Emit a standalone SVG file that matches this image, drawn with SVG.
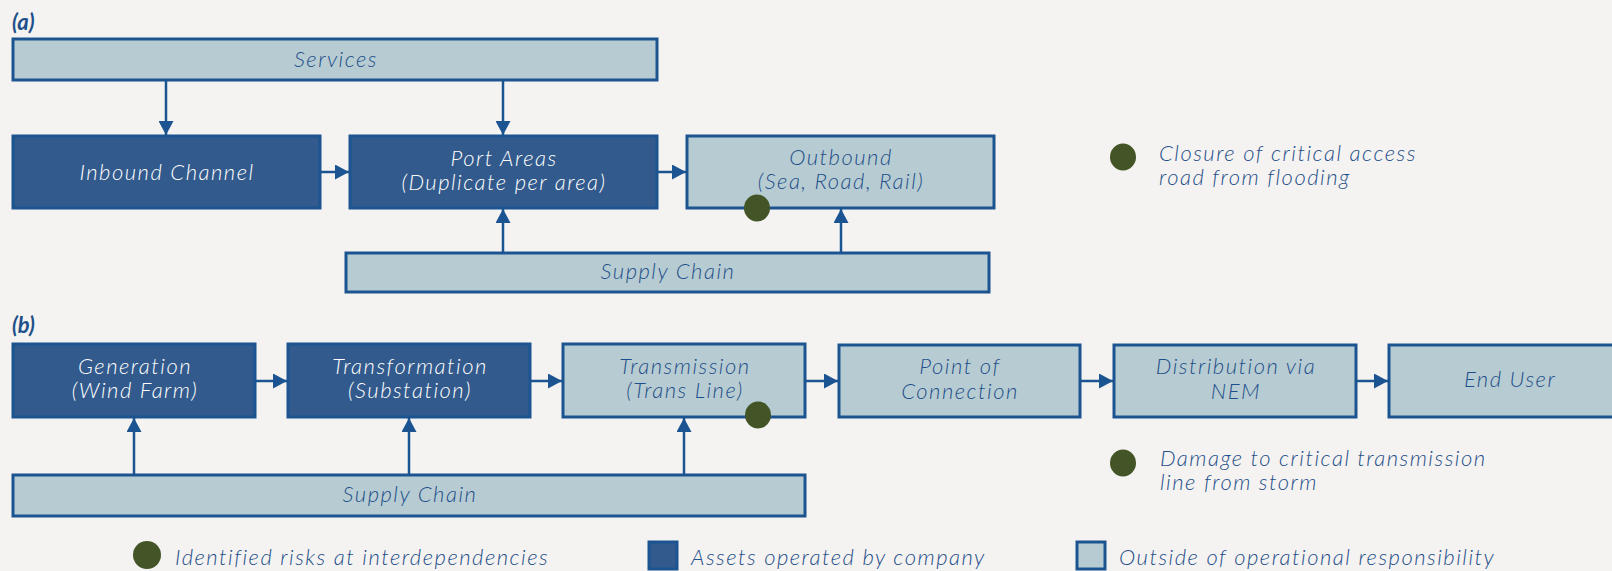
<svg xmlns="http://www.w3.org/2000/svg" width="1612" height="571" viewBox="0 0 1612 571">
  <defs>
    <style>
      .bg { fill: #f4f3f1; }
      .own { fill: #325a8c; stroke: #1b5490; stroke-width: 3; }
      .ext { fill: #b7ccd2; stroke: #1b5490; stroke-width: 3; }
      .t { font-family: Lato, "Open Sans", sans-serif; font-style: italic; font-weight: 300; font-size: 22px; letter-spacing: 1.5px; text-anchor: middle; }
      .tw { fill: #ffffff; }
      .tb { fill: #1f4f8a; }
      .lg { font-family: Lato, "Open Sans", sans-serif; font-style: italic; font-weight: 300; font-size: 22px; letter-spacing: 1.5px; fill: #1f4f8a; }
      .lbl { font-family: Lato, "Open Sans", sans-serif; font-style: italic; font-weight: 700; font-size: 22px; fill: #1f4f8a; }
      .risk { fill: #435426; }
      .conn line { stroke: #1b5490; stroke-width: 2.5; marker-end: url(#head); }
    </style>
    <marker id="head" viewBox="0 0 14 15" refX="14" refY="7.5" markerWidth="14" markerHeight="15" markerUnits="userSpaceOnUse" orient="auto">
      <path d="M0,0 L14,7.5 L0,15 z" fill="#1b5490"/>
    </marker>
  </defs>

  <rect class="bg" x="0" y="0" width="1612" height="571"/>

  <!-- Part (a): port logistics chain -->
  <text class="lbl" x="12" y="30">(a)</text>

  <g id="services">
    <rect class="ext" x="13" y="39" width="644" height="41"/>
    <text class="t tb" x="336" y="67">Services</text>
  </g>
  <g id="inbound">
    <rect class="own" x="13" y="136" width="307" height="72"/>
    <text class="t tw" x="167" y="180">Inbound Channel</text>
  </g>
  <g id="port-areas">
    <rect class="own" x="350" y="136" width="307" height="72"/>
    <text class="t tw" x="504" y="166">Port Areas</text>
    <text class="t tw" x="504" y="190">(Duplicate per area)</text>
  </g>
  <g id="outbound">
    <rect class="ext" x="687" y="136" width="307" height="72"/>
    <text class="t tb" x="841" y="165">Outbound</text>
    <text class="t tb" x="841" y="189">(Sea, Road, Rail)</text>
  </g>
  <g id="supply-chain-a">
    <rect class="ext" x="346" y="253" width="643" height="39"/>
    <text class="t tb" x="668" y="279">Supply Chain</text>
  </g>

  <!-- Part (b): energy supply chain -->
  <text class="lbl" x="12" y="333">(b)</text>

  <g id="generation">
    <rect class="own" x="13" y="344" width="242" height="73"/>
    <text class="t tw" x="135" y="374">Generation</text>
    <text class="t tw" x="135" y="398">(Wind Farm)</text>
  </g>
  <g id="transformation">
    <rect class="own" x="288" y="344" width="242" height="73"/>
    <text class="t tw" x="410" y="374">Transformation</text>
    <text class="t tw" x="410" y="398">(Substation)</text>
  </g>
  <g id="transmission">
    <rect class="ext" x="563" y="344" width="242" height="73"/>
    <text class="t tb" x="685" y="374">Transmission</text>
    <text class="t tb" x="685" y="398">(Trans Line)</text>
  </g>
  <g id="point-of-connection">
    <rect class="ext" x="839" y="345" width="241" height="72"/>
    <text class="t tb" x="960" y="374">Point of</text>
    <text class="t tb" x="960" y="399">Connection</text>
  </g>
  <g id="distribution">
    <rect class="ext" x="1114" y="345" width="242" height="72"/>
    <text class="t tb" x="1236" y="374">Distribution via</text>
    <text class="t tb" x="1236" y="399">NEM</text>
  </g>
  <g id="end-user">
    <rect class="ext" x="1389" y="345" width="242" height="72"/>
    <text class="t tb" x="1510" y="387">End User</text>
  </g>
  <g id="supply-chain-b">
    <rect class="ext" x="13" y="475" width="792" height="41"/>
    <text class="t tb" x="410" y="502">Supply Chain</text>
  </g>

  <!-- Connectors -->
  <g id="connectors" class="conn">
    <line x1="166" y1="81" x2="166" y2="135"/>
    <line x1="503" y1="81" x2="503" y2="135"/>
    <line x1="321" y1="172" x2="349" y2="172"/>
    <line x1="658" y1="172" x2="686" y2="172"/>
    <line x1="503" y1="252" x2="503" y2="209"/>
    <line x1="841" y1="252" x2="841" y2="209"/>

    <line x1="256" y1="381" x2="287" y2="381"/>
    <line x1="531" y1="381" x2="562" y2="381"/>
    <line x1="806" y1="381" x2="838" y2="381"/>
    <line x1="1081" y1="381" x2="1113" y2="381"/>
    <line x1="1357" y1="381" x2="1388" y2="381"/>
    <line x1="134" y1="474" x2="134" y2="418"/>
    <line x1="409" y1="474" x2="409" y2="418"/>
    <line x1="684" y1="474" x2="684" y2="418"/>
  </g>

  <!-- Risk markers -->
  <g id="risk-outbound">
    <ellipse class="risk" cx="757" cy="208" rx="13" ry="13.5"/>
  </g>
  <g id="risk-transmission">
    <ellipse class="risk" cx="758" cy="415" rx="13" ry="13.5"/>
  </g>

  <!-- Risk notes -->
  <g id="note-a">
    <ellipse class="risk" cx="1123" cy="157" rx="13" ry="13.5"/>
    <text class="lg" x="1159" y="161">Closure of critical access</text>
    <text class="lg" x="1159" y="185">road from flooding</text>
  </g>
  <g id="note-b">
    <ellipse class="risk" cx="1123" cy="463" rx="13" ry="13.5"/>
    <text class="lg" x="1160" y="466">Damage to critical transmission</text>
    <text class="lg" x="1160" y="490">line from storm</text>
  </g>

  <!-- Legend -->
  <g id="legend">
    <ellipse class="risk" cx="147" cy="555" rx="14" ry="14"/>
    <text class="lg" x="175" y="565">Identified risks at interdependencies</text>
    <rect class="own" x="649" y="542" width="28" height="27"/>
    <text class="lg" x="691" y="565">Assets operated by company</text>
    <rect class="ext" x="1077" y="542" width="28" height="27"/>
    <text class="lg" x="1119" y="565">Outside of operational responsibility</text>
  </g>
</svg>
